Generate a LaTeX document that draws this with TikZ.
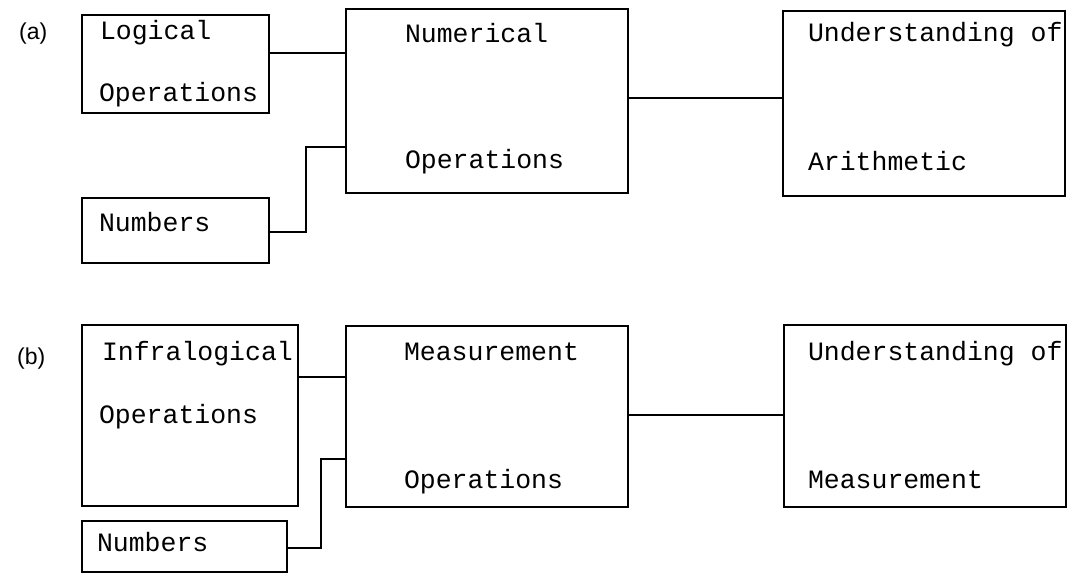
\documentclass[tikz,border=0pt]{standalone}
\usepackage{fontspec}
\setmonofont{Liberation Mono}
\newfontfamily\partfont{Liberation Sans}
\usetikzlibrary{positioning}

\begin{document}
\begin{tikzpicture} [
						x=1pt, y=-1pt,
						line width=2.2pt,
						box/.style={draw, rectangle, inner sep=0pt},
						lbl/.style={anchor=base west, inner sep=0pt, font=\ttfamily\fontsize{26.5}{30}\selectfont},
						part/.style={anchor=base west, inner sep=0pt, font=\partfont\fontsize{23}{27}\selectfont}
					]

\useasboundingbox (0,0) rectangle (1073,573);

% (a)
\node (pa) [part] at (18,39) {(a)};
\node (logic) [box, minimum width=187, minimum height=98] at (175.5,64) {};
\node (numA) [box, minimum width=187, minimum height=65] at (175.5,230.5) {};
\node (numer) [box, minimum width=282, minimum height=184] at (487,101) {};
\node (undA) [box, minimum width=282, minimum height=185] at (924,103.5) {};

\node (logicT) [lbl] at ([shift={(18,26)}]logic.north west) {Logical};
\node (logicB) [lbl] at ([shift={(17,88)}]logic.north west) {Operations};
\node (numAT) [lbl] at ([shift={(17,35)}]numA.north west) {Numbers};
\node (numerT) [lbl] at ([shift={(59,35)}]numer.north west) {Numerical};
\node (numerB) [lbl] at ([shift={(59,161)}]numer.north west) {Operations};
\node (undAT) [lbl] at ([shift={(25,32)}]undA.north west) {Understanding of};
\node (undAB) [lbl] at ([shift={(25,161)}]undA.north west) {Arithmetic};

\draw (logic.east |- 0,53) -- (numer.west |- 0,53);
\draw (numA.east |- 0,232) -| (306,147) -- (numer.west |- 0,147);
\draw (numer.east |- 0,98) -- (undA.west |- 0,98);

% (b)
\node (pb) [part] at (16,364) {(b)};
\node (infra) [box, minimum width=216, minimum height=181] at (190,415.5) {};
\node (numB) [box, minimum width=205, minimum height=51] at (184.5,546.5) {};
\node (meas) [box, minimum width=282, minimum height=181] at (487,416.5) {};
\node (undB) [box, minimum width=282, minimum height=182] at (925,416) {};

\node (infraT) [lbl] at ([shift={(20,37)}]infra.north west) {Infralogical};
\node (infraB) [lbl] at ([shift={(17,100)}]infra.north west) {Operations};
\node (numBT) [lbl] at ([shift={(15,32)}]numB.north west) {Numbers};
\node (measT) [lbl] at ([shift={(58,36)}]meas.north west) {Measurement};
\node (measB) [lbl] at ([shift={(58,164)}]meas.north west) {Operations};
\node (undBT) [lbl] at ([shift={(24,37)}]undB.north west) {Understanding of};
\node (undBB) [lbl] at ([shift={(24,165)}]undB.north west) {Measurement};

\draw (infra.east |- 0,377) -- (meas.west |- 0,377);
\draw (numB.east |- 0,548) -| (321,459) -- (meas.west |- 0,459);
\draw (meas.east |- 0,415) -- (undB.west |- 0,415);

\end{tikzpicture}
\end{document}
